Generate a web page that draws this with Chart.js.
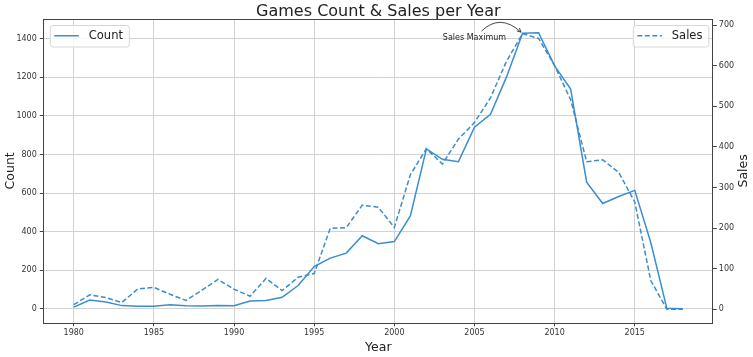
<!DOCTYPE html>
<html><head><meta charset="utf-8">
<script src="https://cdn.jsdelivr.net/npm/chart.js@4.4.1/dist/chart.umd.min.js"></script>
<style>html,body{margin:0;padding:0;background:#fff}#wrap{width:753px;height:357px}</style>
</head><body><div id="wrap"><canvas id="c" width="753" height="357"></canvas></div>
<script>
// ---- data ----
const years = [1980,1981,1982,1983,1984,1985,1986,1987,1988,1989,1990,1991,1992,1993,1994,1995,1996,1997,1998,1999,2000,2001,2002,2003,2004,2005,2006,2007,2008,2009,2010,2011,2012,2013,2014,2015,2016,2017,2018];
const gameCounts = [9,46,36,17,14,14,21,16,15,17,16,41,43,60,121,219,263,289,379,338,349,482,829,775,763,941,1008,1202,1428,1431,1259,1139,657,546,582,614,344,3,1];
const globalSales = [11.4,35.8,28.9,16.8,50.4,53.9,37.1,21.7,47.2,73.5,49.4,32.2,76.2,46.0,79.2,88.1,199.2,201.0,256.5,251.3,201.6,331.5,395.5,357.9,419.3,459.9,521.0,611.1,678.9,667.3,600.5,516.0,363.5,368.1,337.1,264.4,70.9,0.05,0.3];
const yearTicks = [1980,1985,1990,1995,2000,2005,2010,2015];
const countTicks = [0,200,400,600,800,1000,1200,1400];
const salesTicks = [0,100,200,300,400,500,600,700];
const chartTitle = 'Games Count & Sales per Year';
const xLabel = 'Year', countLabel = 'Count', salesLabel = 'Sales';
const annotationText = 'Sales Maximum';

const LINE = '#3a8dcf';
const FONT = '"DejaVu Sans", sans-serif';

const countPts = years.map((y,i)=>({x:y,y:gameCounts[i]}));
const salesPts = years.map((y,i)=>({x:y,y:globalSales[i]}));

const decor = {
  id:'decor',
  afterDatasetsDraw(chart){
    const {ctx, chartArea:a, scales} = chart;
    ctx.save();
    // frame
    ctx.strokeStyle = '#444'; ctx.lineWidth = 1;
    ctx.strokeRect(Math.round(a.left)+0.5, Math.round(a.top)+0.5, Math.round(a.right-a.left)-1+0, Math.round(a.bottom-a.top));
    ctx.fillStyle = '#222';
    // title
    ctx.font = '16px ' + FONT; ctx.textAlign='center'; ctx.textBaseline='alphabetic';
    ctx.fillText(chartTitle, (a.left+a.right)/2, 15.5);
    // axis titles
    ctx.font = '12.5px ' + FONT;
    ctx.fillText(xLabel, (a.left+a.right)/2, 350.5);
    ctx.save(); ctx.translate(13.5,(a.top+a.bottom)/2); ctx.rotate(-Math.PI/2); ctx.fillText(countLabel,0,0); ctx.restore();
    ctx.save(); ctx.translate(747,(a.top+a.bottom)/2); ctx.rotate(-Math.PI/2); ctx.fillText(salesLabel,0,0); ctx.restore();

    // annotation at sales maximum
    const xs = scales.x, ys = scales.ySales;
    let mi = 0; globalSales.forEach((v,i)=>{ if (v>globalSales[mi]) mi=i; });
    const px = xs.getPixelForValue(years[mi]), py = ys.getPixelForValue(globalSales[mi]);
    const tx = xs.getPixelForValue(2005), ty = ys.getPixelForValue(668);
    ctx.font = '8px ' + FONT; ctx.textAlign='center'; ctx.textBaseline='middle'; ctx.fillStyle='#222';
    ctx.fillText(annotationText, tx, ty);
    const sx = tx+7, sy = ty-7, ex = px-1.5, ey = py-1.5;
    const cx = (sx+ex)/2 - 1, cy = Math.min(sy,ey) - 18;
    ctx.strokeStyle = '#333'; ctx.lineWidth = 0.9;
    ctx.beginPath(); ctx.moveTo(sx,sy); ctx.quadraticCurveTo(cx,cy,ex,ey); ctx.stroke();
    const ang = Math.atan2(ey-cy, ex-cx), hl = 4.5, ha = 0.45;
    ctx.beginPath();
    ctx.moveTo(ex-hl*Math.cos(ang-ha), ey-hl*Math.sin(ang-ha));
    ctx.lineTo(ex,ey);
    ctx.lineTo(ex-hl*Math.cos(ang+ha), ey-hl*Math.sin(ang+ha));
    ctx.stroke();

    // legends
    const drawLegend = (bx, by, bw, bh, dash, label) => {
      ctx.save();
      ctx.fillStyle='rgba(255,255,255,0.85)'; ctx.strokeStyle='#d6d6d6'; ctx.lineWidth=1;
      ctx.beginPath(); ctx.roundRect(bx+0.5,by+0.5,bw,bh,2.5); ctx.fill(); ctx.stroke();
      ctx.strokeStyle=LINE; ctx.lineWidth=1.5; ctx.setLineDash(dash);
      ctx.beginPath(); ctx.moveTo(bx+4.5, by+bh/2); ctx.lineTo(bx+29, by+bh/2); ctx.stroke();
      ctx.setLineDash([]);
      ctx.fillStyle='#222'; ctx.font='11.5px '+FONT; ctx.textAlign='left'; ctx.textBaseline='middle';
      ctx.fillText(label, bx+39, by+bh/2+0.5);
      ctx.restore();
    };
    drawLegend(a.left+6.5, a.top+6, 79, 21.5, [], countLabel);
    drawLegend(a.right-80.5, a.top+6, 75.5, 21.5, [5,2.5], salesLabel);
    ctx.restore();
  }
};

Chart.defaults.font.family = FONT;
new Chart(document.getElementById('c'), {
  type:'line',
  data:{datasets:[
    {label:countLabel, data:countPts, yAxisID:'yCount', borderColor:LINE, borderWidth:1.5, pointRadius:0, tension:0, fill:false},
    {label:salesLabel, data:salesPts, yAxisID:'ySales', borderColor:LINE, borderWidth:1.5, borderDash:[5,2.5], pointRadius:0, tension:0, fill:false}
  ]},
  options:{
    responsive:false, animation:false, devicePixelRatio:1,
    layout:{padding:{top:19,left:0,right:0,bottom:0}},
    plugins:{legend:{display:false}, title:{display:false}, tooltip:{enabled:false}},
    scales:{
      x:{type:'linear', position:'bottom', min:1978.1, max:2019.9,
        afterBuildTicks:s=>{s.ticks=yearTicks.map(v=>({value:v}));},
        afterFit:s=>{s.height=34.3;},
        ticks:{callback:v=>String(v), font:{size:8}, color:'#333', padding:2, maxRotation:0, autoSkip:false},
        grid:{color:'#d2d2d2', lineWidth:1, tickLength:3.5, tickColor:'#444'}, border:{display:false}},
      yCount:{type:'linear', position:'left', min:-71.5, max:1502,
        afterBuildTicks:s=>{s.ticks=countTicks.map(v=>({value:v}));},
        afterFit:s=>{s.width=43.3;},
        ticks:{callback:v=>String(v), font:{size:8}, color:'#333', padding:3},
        grid:{color:'#d2d2d2', lineWidth:1, tickLength:3.5, tickColor:'#444'}, border:{display:false}},
      ySales:{type:'linear', position:'right', min:-33, max:715,
        afterBuildTicks:s=>{s.ticks=salesTicks.map(v=>({value:v}));},
        afterFit:s=>{s.width=39.7;},
        ticks:{callback:v=>String(v), font:{size:8}, color:'#333', padding:2},
        grid:{drawOnChartArea:false, tickLength:3.5, tickColor:'#444'}, border:{display:false}}
    }
  },
  plugins:[decor]
});
</script></body></html>
